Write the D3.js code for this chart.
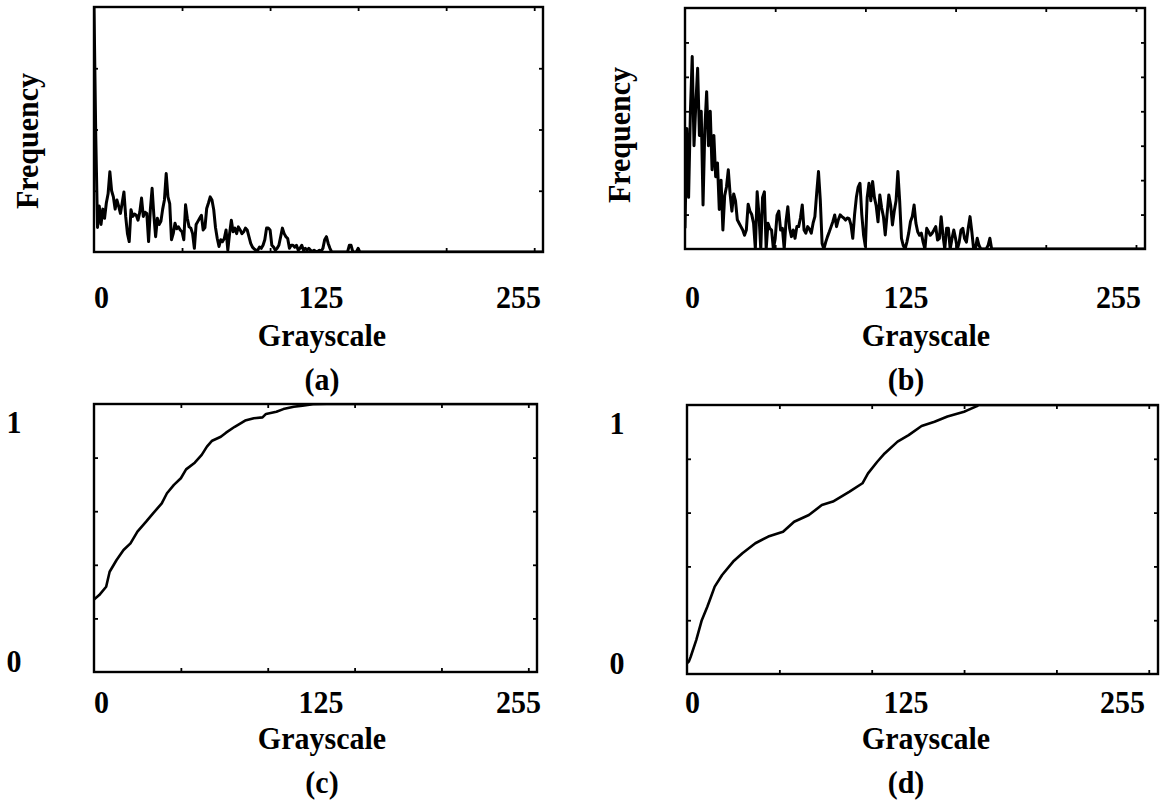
<!DOCTYPE html>
<html><head><meta charset="utf-8">
<script src="https://cdn.jsdelivr.net/npm/d3@7"></script>
<style>
body{margin:0;background:#fff}
text{font-family:"Liberation Serif","Times New Roman",serif;font-weight:bold;fill:#000}
</style>
</head><body>
<svg id="fig" width="1166" height="803"></svg>
<script>
// ---------- DATA ----------
// Histogram of image (a): frequency per gray level 0..151 (levels above are 0)
const histA = [400,190,40,75,45,70,55,80,95,131,100,90,70,85,75,63,80,98,58,30,
  17,69,58,62,60,52,65,88,58,65,63,17,69,104,60,25,55,45,50,70,
  85,128,90,79,20,30,47,38,41,36,33,20,77,55,41,39,30,6,45,50,
  55,60,36,40,71,80,90,85,69,40,22,9,20,17,22,36,3,30,52,33,
  39,30,41,36,30,33,39,36,25,14,8,5,3,3,8,6,11,20,39,39,
  36,11,8,3,6,11,25,39,30,25,22,6,11,11,8,11,3,6,11,3,
  6,3,6,3,1,3,1,1,3,1,6,20,25,14,6,0,0,0,0,0,
  0,0,0,0,0,11,11,0,0,0,6,0];
// Histogram of image (b): frequency per gray level 0..170 (levels above are 0)
const histB = [60,350,150,400,559,300,420,525,330,400,128,350,457,300,400,230,330,210,250,115,
  200,55,155,180,230,160,110,160,140,85,75,65,55,40,55,130,110,100,75,0,
  166,100,0,150,166,0,75,60,55,0,30,98,110,55,60,0,80,123,60,36,
  55,31,65,65,90,128,55,46,65,58,46,75,94,162,225,142,16,0,20,36,
  50,65,80,99,65,85,99,94,90,84,90,88,70,31,100,150,180,191,100,40,
  7,150,191,140,196,150,125,79,157,120,94,41,100,157,128,70,110,140,225,140,
  31,10,0,20,46,80,94,128,75,50,40,46,20,0,60,50,40,46,55,65,
  26,30,94,40,0,60,60,0,30,55,30,0,20,55,60,30,20,60,94,50,
  0,0,31,10,0,0,0,0,10,31,0];
// Cumulative distribution (c), gray level / cumulative fraction
const cdfCGray = [0,3,7,9,13,17,21,25,30,34,39,42,46,50,53,58,62,65,68,73,76,81,87,92,97,99,105,109,115,120,126,134,255];
const cdfCVal  = [.271,.287,.318,.374,.418,.455,.48,.524,.561,.592,.629,.667,.698,.723,.756,.781,.81,.841,.863,.878,.893,.915,.938,.947,.95,.963,.971,.981,.99,.994,.999,1,1];
// Cumulative distribution (d)
const cdfDGray = [0,1,2,5,8,11,13,15,19,25,30,37,44,52,58,66,73,79,88,95,98,103,107,114,120,127,134,141,150,152,157,158,255];
const cdfDVal  = [.04,.046,.064,.126,.2,.25,.287,.325,.368,.418,.449,.486,.511,.529,.566,.591,.628,.641,.678,.709,.746,.789,.82,.864,.888,.922,.938,.957,.975,.981,.996,1,1];

const xTickLabels = ["0","125","255"];
const xTicks = [50,100,150,200,250];
const cdfYLabels = ["0","1"];
const panelLabels = ["(a)","(b)","(c)","(d)"];
const xTitle = "Grayscale";
const yTitle = "Frequency";

// ---------- LAYOUT ----------
const panels = [
  {kind:"hist", data:histA, yMax:400, yStep:100, x0:94, x1:543, y0:7, y1:252,
   lab:[94,321,541], labY:308, titleX:322, titleY:346, tagX:322, tagY:390, yTitleX:38, yTitleY:141},
  {kind:"hist", data:histB, yMax:700, yStep:100, x0:685, x1:1145, y0:8, y1:249,
   lab:[685,906,1141], labY:308, titleX:926, titleY:346, tagX:906, tagY:390, yTitleX:630, yTitleY:135},
  {kind:"cdf", gx:cdfCGray, gv:cdfCVal, yMax:1, yStep:0.2, x0:94, x1:537, y0:404, y1:672,
   lab:[94,321,541], labY:713, titleX:322, titleY:749, tagX:322, tagY:793, yLabX:14},
  {kind:"cdf", gx:cdfDGray, gv:cdfDVal, yMax:1, yStep:0.2, x0:687, x1:1158, y0:405, y1:674,
   lab:[685,906,1145], labY:713, titleX:926, titleY:749, tagX:906, tagY:793, yLabX:617}
];

const svg = d3.select("#fig");
const FS = 30;
const SY = 1.08; // slightly tall glyphs as in the reference

function addText(g, x, y, str, anchor, rotate) {
  g.append("text")
    .attr("transform", `translate(${x},${y})` + (rotate ? " rotate(-90)" : "") + ` scale(1,${SY})`)
    .attr("text-anchor", anchor).attr("font-size", FS).text(str);
}

panels.forEach((p, i) => {
  const g = svg.append("g");
  const x = d3.scaleLinear().domain([0,255]).range([p.x0, p.x1]);
  const y = d3.scaleLinear().domain([0,p.yMax]).range([p.y1, p.y0]);
  const clipId = "clip" + i;
  svg.append("clipPath").attr("id", clipId).append("rect")
    .attr("x", p.x0).attr("y", p.y0).attr("width", p.x1 - p.x0).attr("height", p.y1 - p.y0);

  let pts;
  if (p.kind === "hist") {
    pts = p.data.map((v, k) => [k, v]);
    pts.push([255, 0]);
  } else {
    pts = p.gx.map((gv, k) => [gv, p.gv[k]]);
  }
  const line = d3.line().x(d => x(d[0])).y(d => y(Math.min(d[1], p.yMax)));
  g.append("path").datum(pts).attr("d", line)
    .attr("fill", "none").attr("stroke", "#000")
    .attr("stroke-width", p.kind === "hist" ? 3 : 2.6)
    .attr("stroke-linejoin", "round")
    .attr("clip-path", `url(#${clipId})`);

  const tl = 4;
  const yt = d3.range(p.yStep, p.yMax - p.yStep/2, p.yStep);
  g.append("g").call(d3.axisBottom(x).tickValues(xTicks).tickSize(-tl).tickFormat(""))
    .attr("transform", `translate(0,${p.y1})`).call(s => s.select(".domain").remove());
  g.append("g").call(d3.axisTop(x).tickValues(xTicks).tickSize(-tl).tickFormat(""))
    .attr("transform", `translate(0,${p.y0})`).call(s => s.select(".domain").remove());
  g.append("g").call(d3.axisLeft(y).tickValues(yt).tickSize(-tl).tickFormat(""))
    .attr("transform", `translate(${p.x0},0)`).call(s => s.select(".domain").remove());
  g.append("g").call(d3.axisRight(y).tickValues(yt).tickSize(-tl).tickFormat(""))
    .attr("transform", `translate(${p.x1},0)`).call(s => s.select(".domain").remove());
  g.selectAll(".tick line").attr("stroke", "#000").attr("stroke-width", 1.8);

  g.append("rect").attr("x", p.x0).attr("y", p.y0)
    .attr("width", p.x1 - p.x0).attr("height", p.y1 - p.y0)
    .attr("fill", "none").attr("stroke", "#000").attr("stroke-width", 2.4);

  const anchors = ["start","middle","end"];
  xTickLabels.forEach((t, k) => addText(g, p.lab[k], p.labY, t, anchors[k]));
  addText(g, p.titleX, p.titleY, xTitle, "middle");
  addText(g, p.tagX, p.tagY, panelLabels[i], "middle");

  if (p.kind === "hist") {
    addText(g, p.yTitleX, p.yTitleY, yTitle, "middle", true);
  } else {
    addText(g, p.yLabX, p.y1, cdfYLabels[0], "middle");
    addText(g, p.yLabX, p.y0 + 29, cdfYLabels[1], "middle");
  }
});
</script>
</body></html>
